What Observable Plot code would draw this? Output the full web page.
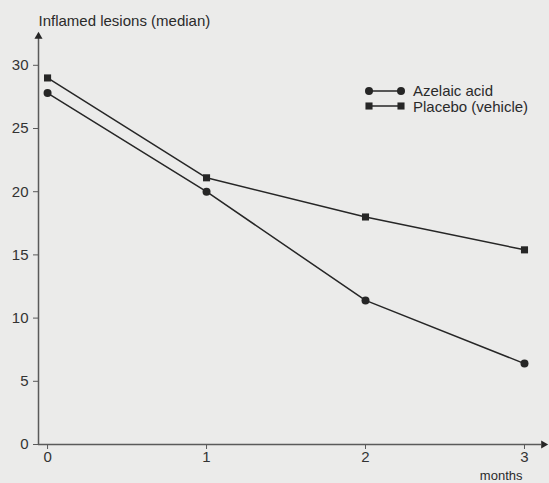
<!DOCTYPE html>
<html>
<head>
<meta charset="utf-8">
<script src="https://cdn.jsdelivr.net/npm/d3@7"></script>
<script src="https://cdn.jsdelivr.net/npm/@observablehq/plot@0.6"></script>
<style>
  html, body { margin: 0; padding: 0; background: #ebebea; }
  #wrap { position: relative; width: 549px; height: 483px; overflow: hidden; }
  #legend { position: absolute; left: 364px; top: 83px; font-family: "Liberation Sans", Arial, sans-serif; font-size: 15px; color: #2a2a2a; line-height: 15.5px; }
  #legend .row { display: flex; align-items: center; height: 15.5px; }
  #legend svg { margin-right: 7px; }
</style>
</head>
<body>
<div id="wrap"><div id="legend"></div></div>
<script>
const months = [0, 1, 2, 3];
const azelaic = [27.8, 20.0, 11.4, 6.4];
const placebo = [29.0, 21.1, 18.0, 15.4];
const seriesNames = ["Azelaic acid", "Placebo (vehicle)"];
const seriesSymbols = ["circle", "square"];
const xTicks = [0, 1, 2, 3];
const yTicks = [0, 5, 10, 15, 20, 25, 30];
const yLabel = "Inflamed lesions (median)";
const xLabel = "months";
const xDomain = [-0.057, 3.107];
const yDomain = [0, 32.2];

const data = [];
months.forEach((m, i) => {
  data.push({month: m, value: azelaic[i], series: seriesNames[0]});
  data.push({month: m, value: placebo[i], series: seriesNames[1]});
});

const ink = "#262626";
const axisInk = "#5a5a5a";

const chart = Plot.plot({
  width: 549,
  height: 483,
  marginLeft: 38,
  marginRight: 8,
  marginTop: 37,
  marginBottom: 39,
  style: {background: "transparent", fontFamily: "Liberation Sans, Arial, sans-serif", fontSize: "15px", color: "#333"},
  x: {domain: xDomain},
  y: {domain: yDomain},
  symbol: {domain: seriesNames, range: seriesSymbols},
  marks: [
    Plot.axisY({ticks: yTicks, tickSize: 5, tickPadding: 5, label: null, stroke: axisInk, fill: "#333", fontSize: 15, tickFormat: d3.format("d")}),
    Plot.axisX({ticks: xTicks, tickSize: 5, tickPadding: 2, label: null, stroke: axisInk, fill: "#333", fontSize: 15, tickFormat: d3.format("d")}),
    Plot.ruleX([xDomain[0]], {stroke: axisInk, strokeWidth: 1.5}),
    Plot.ruleY([0], {stroke: axisInk, strokeWidth: 1.5}),
    Plot.dot([{x: xDomain[0], y: yDomain[1]}], {x: "x", y: "y", symbol: "triangle", r: 3, fill: ink, stroke: null, dy: -1}),
    Plot.dot([{x: xDomain[1], y: 0}], {x: "x", y: "y", symbol: "triangle", rotate: 90, r: 3, fill: ink, stroke: null, dx: 2}),
    Plot.line(data, {x: "month", y: "value", z: "series", stroke: ink, strokeWidth: 1.5}),
    Plot.dot(data, {x: "month", y: "value", symbol: "series", r: 4, fill: ink, stroke: null}),
    Plot.text([yLabel], {frameAnchor: "top-left", textAnchor: "start", lineAnchor: "bottom", dy: -12, fontSize: 15, fill: "#2a2a2a"}),
    Plot.text([xLabel], {frameAnchor: "bottom-right", textAnchor: "end", lineAnchor: "bottom", dx: -19, dy: 35, fontSize: 13, fill: "#2a2a2a"})
  ]
});
document.getElementById("wrap").prepend(chart);

// legend
const legend = d3.select("#legend");
seriesNames.forEach((name, i) => {
  const row = legend.append("div").attr("class", "row");
  const svg = row.append("svg").attr("width", 42).attr("height", 12);
  svg.append("line").attr("x1", 5).attr("x2", 37).attr("y1", 6).attr("y2", 6).attr("stroke", ink).attr("stroke-width", 1.5);
  const sym = d3.symbol(seriesSymbols[i] === "circle" ? d3.symbolCircle : d3.symbolSquare, Math.PI * 16);
  [5, 37].forEach(cx => svg.append("path").attr("d", sym()).attr("transform", `translate(${cx},6)`).attr("fill", ink));
  row.append("span").text(name);
});
</script>
</body>
</html>
